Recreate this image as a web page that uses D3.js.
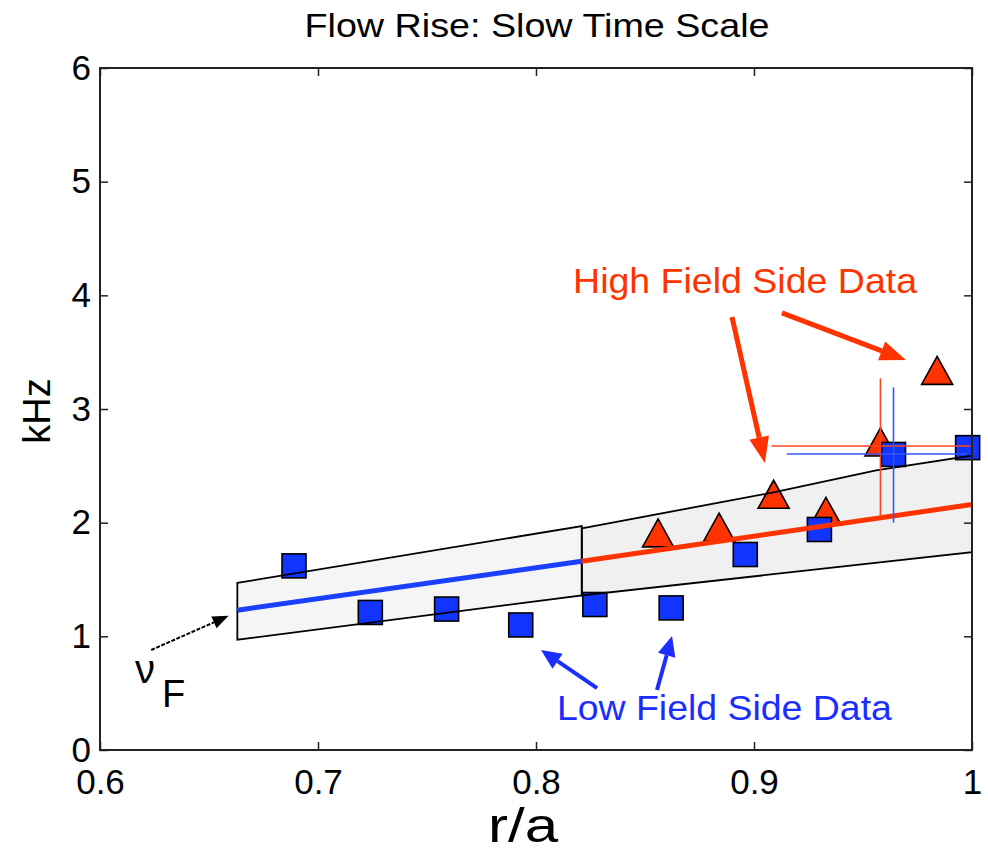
<!DOCTYPE html>
<html>
<head>
<meta charset="utf-8">
<script src="https://cdn.jsdelivr.net/npm/d3@7"></script>
<style>
  body { margin: 0; background: #fff; }
  svg { display: block; font-family: "Liberation Sans", Arial, sans-serif; }
</style>
</head>
<body>
<div id="chart"></div>
<script>
// ---- data ----
const xTicks = [0.6, 0.7, 0.8, 0.9, 1];
const yTicks = [0, 1, 2, 3, 4, 5, 6];

// low field side (blue squares)
const lowR = [0.689, 0.724, 0.759, 0.793, 0.827, 0.862, 0.896, 0.930, 0.964, 0.998];
const lowK = [1.62, 1.21, 1.24, 1.10, 1.28, 1.25, 1.72, 1.94, 2.60, 2.66];

// high field side (red triangles)
const highR = [0.856, 0.884, 0.909, 0.933, 0.958, 0.984];
const highK = [1.91, 1.96, 2.25, 2.10, 2.71, 3.34];

// error bars: [r, k, rLo, rHi, kLo, kHi]
const highErr = [0.958, 2.675, 0.908, 1.0, 2.05, 3.27];
const lowErr = [0.964, 2.604, 0.915, 0.998, 2.0, 3.19];

// nu_F fits and their bands
const leftFit = [[0.663, 1.23], [0.821, 1.66]];
const rightFit = [[0.821, 1.66], [1.0, 2.16]];
const leftBandTop = [[0.663, 1.47], [0.821, 1.97]];
const leftBandBot = [[0.663, 0.97], [0.821, 1.36]];
const rightBandTop = [[0.821, 1.95], [0.910, 2.27], [0.956, 2.46], [1.0, 2.59]];
const rightBandBot = [[0.821, 1.36], [1.0, 1.74]];

// annotation arrows [from, to] in data units
const nuArrow = [[0.6235, 0.88], [0.659, 1.18]];
const lowArrows = [[[0.828, 0.545], [0.8023, 0.88]], [[0.8555, 0.528], [0.8624, 1.003]]];
const highArrows = [[[0.8899, 3.81], [0.905, 2.525]], [[0.9128, 3.845], [0.9697, 3.43]]];

const width = 988, height = 851;

const svg = d3.select("#chart").append("svg")
    .attr("width", width)
    .attr("height", height);

const x = d3.scaleLinear().domain([0.6, 1]).range([100, 972]);
const y = d3.scaleLinear().domain([0, 6]).range([750, 68]);

const blue = "#1234ff", red = "#ff3300";
const line = d3.line().x(d => x(d[0])).y(d => y(d[1]));

// ---- bands (fill) ----
function bandPoly(top, bot) {
    return line(top.concat(bot.slice().reverse())) + "Z";
}
svg.append("path").attr("d", bandPoly(leftBandTop, leftBandBot)).attr("fill", "#f5f5f5");
svg.append("path").attr("d", bandPoly(rightBandTop, rightBandBot)).attr("fill", "#f0f0f0");

// ---- markers ----
const tri = "M0,-14L15.5,14L-15.5,14Z";
svg.selectAll(".hfs").data(highR).enter().append("path")
    .attr("class", "hfs")
    .attr("d", tri)
    .attr("transform", (d, i) => `translate(${x(d)},${y(highK[i])})`)
    .attr("fill", red)
    .attr("stroke", "#000")
    .attr("stroke-width", 1.6);

svg.selectAll(".lfs").data(lowR).enter().append("rect")
    .attr("class", "lfs")
    .attr("x", d => x(d) - 12)
    .attr("y", (d, i) => y(lowK[i]) - 12)
    .attr("width", 24)
    .attr("height", 24)
    .attr("fill", blue)
    .attr("stroke", "#000")
    .attr("stroke-width", 1.6);

// ---- band edges ----
svg.append("path").attr("d", bandPoly(leftBandTop, leftBandBot))
    .attr("fill", "none").attr("stroke", "#000").attr("stroke-width", 1.8);
svg.append("path").attr("d", bandPoly(rightBandTop, rightBandBot))
    .attr("fill", "none").attr("stroke", "#000").attr("stroke-width", 1.8);

// ---- fits ----
svg.append("path").attr("d", line(leftFit)).attr("stroke", "#1a3fff").attr("stroke-width", 5).attr("fill", "none");
svg.append("path").attr("d", line(rightFit)).attr("stroke", red).attr("stroke-width", 5).attr("fill", "none");

// ---- error bars ----
function errBar(e, color) {
    svg.append("line")
        .attr("x1", x(e[2])).attr("x2", x(e[3]))
        .attr("y1", y(e[1])).attr("y2", y(e[1]))
        .attr("stroke", color).attr("stroke-width", 1.6);
    svg.append("line")
        .attr("x1", x(e[0])).attr("x2", x(e[0]))
        .attr("y1", y(e[4])).attr("y2", y(e[5]))
        .attr("stroke", color).attr("stroke-width", 1.6);
}
errBar(highErr, "#ff4422");
errBar(lowErr, "#3355ff");

// ---- arrows ----
function arrow(p0, p1, color, w, hl, hw, dash) {
    const x0 = x(p0[0]), y0 = y(p0[1]), x1 = x(p1[0]), y1 = y(p1[1]);
    const a = Math.atan2(y1 - y0, x1 - x0);
    const bx = x1 - hl * Math.cos(a), by = y1 - hl * Math.sin(a);
    const px = -Math.sin(a) * hw / 2, py = Math.cos(a) * hw / 2;
    svg.append("line")
        .attr("x1", x0).attr("y1", y0).attr("x2", bx).attr("y2", by)
        .attr("stroke", color).attr("stroke-width", w)
        .attr("stroke-dasharray", dash || null);
    svg.append("path")
        .attr("d", `M${x1},${y1}L${bx + px},${by + py}L${bx - px},${by - py}Z`)
        .attr("fill", color);
}
arrow(nuArrow[0], nuArrow[1], "#000", 2, 16, 13, "4,1.5");
lowArrows.forEach(a => arrow(a[0], a[1], "#1a2eff", 4, 20, 18));
highArrows.forEach(a => arrow(a[0], a[1], red, 5, 26, 20));

// ---- annotation text ----
svg.append("text")
    .attr("x", x(0.8096)).attr("y", y(0.264))
    .attr("font-size", 35).attr("fill", "#1a2eff")
    .attr("textLength", 335).attr("lengthAdjust", "spacingAndGlyphs")
    .text("Low Field Side Data");

svg.append("text")
    .attr("x", x(0.817)).attr("y", y(4.02))
    .attr("font-size", 35).attr("fill", red)
    .attr("textLength", 344).attr("lengthAdjust", "spacingAndGlyphs")
    .text("High Field Side Data");

svg.append("text")
    .attr("x", x(0.616)).attr("y", y(0.59))
    .attr("font-size", 40).attr("fill", "#000")
    .text("ν");
svg.append("text")
    .attr("x", x(0.6284)).attr("y", y(0.378))
    .attr("font-size", 38).attr("fill", "#000")
    .text("F");

// ---- axes ----
function styleAxis(g) {
    g.select(".domain").remove();
    g.selectAll(".tick line").attr("stroke", "#222").attr("stroke-width", 1.5);
    g.selectAll(".tick text").attr("fill", "#000");
    g.attr("font-size", 35).attr("font-family", null);
}

svg.append("g")
    .attr("transform", "translate(0,750)")
    .call(d3.axisBottom(x).tickValues(xTicks).tickFormat(d => String(d))
        .tickSizeInner(-8).tickSizeOuter(0).tickPadding(19))
    .call(styleAxis);

svg.append("g")
    .attr("transform", "translate(0,68)")
    .call(d3.axisTop(x).tickValues(xTicks).tickFormat("")
        .tickSizeInner(-8).tickSizeOuter(0))
    .call(styleAxis);

svg.append("g")
    .attr("transform", "translate(100,0)")
    .call(d3.axisLeft(y).tickValues(yTicks).tickFormat(d => String(d))
        .tickSizeInner(-8).tickSizeOuter(0).tickPadding(9))
    .call(styleAxis);

svg.append("g")
    .attr("transform", "translate(972,0)")
    .call(d3.axisRight(y).tickValues(yTicks).tickFormat("")
        .tickSizeInner(-8).tickSizeOuter(0))
    .call(styleAxis);

svg.append("rect")
    .attr("x", 100).attr("y", 68)
    .attr("width", 872).attr("height", 682)
    .attr("fill", "none")
    .attr("stroke", "#222")
    .attr("stroke-width", 2);

// ---- titles ----
svg.append("text")
    .attr("x", 537).attr("y", 37)
    .attr("text-anchor", "middle")
    .attr("font-size", 33)
    .attr("textLength", 465).attr("lengthAdjust", "spacingAndGlyphs")
    .text("Flow Rise: Slow Time Scale");

svg.append("text")
    .attr("x", 523).attr("y", 842)
    .attr("text-anchor", "middle")
    .attr("font-size", 48)
    .attr("textLength", 70).attr("lengthAdjust", "spacingAndGlyphs")
    .text("r/a");

svg.append("text")
    .attr("transform", "translate(50,411) rotate(-90)")
    .attr("text-anchor", "middle")
    .attr("font-size", 38)
    .text("kHz");
</script>
</body>
</html>
